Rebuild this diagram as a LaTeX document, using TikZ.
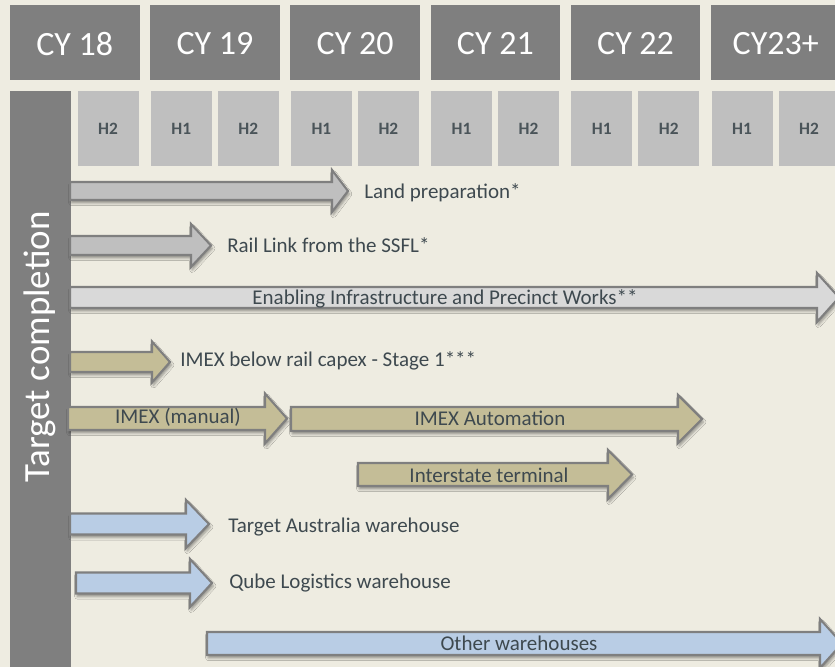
\documentclass[tikz,border=0pt]{standalone}
\usepackage{fontspec}
\setmainfont{Carlito}
\usetikzlibrary{shadows.blur}

\definecolor{slide}{RGB}{238,236,225}
\definecolor{yeargray}{RGB}{127,127,127}
\definecolor{halfgray}{RGB}{191,191,191}
\definecolor{taskgray}{RGB}{191,191,191}
\definecolor{taskpale}{RGB}{217,217,217}
\definecolor{tasktan}{RGB}{196,189,151}
\definecolor{taskblue}{RGB}{185,205,229}
\definecolor{labeltext}{RGB}{62,73,79}
\definecolor{halftext}{RGB}{74,84,89}

\tikzset{
  yearbox/.style={fill=yeargray},
  halfbox/.style={fill=halfgray},
  yearlabel/.style={text=white, inner sep=0pt, font=\fontsize{25.5}{30}\selectfont},
  halflabel/.style={text=halftext, inner sep=0pt, font=\fontsize{13}{15}\selectfont\bfseries},
  task/.style={draw=yeargray, line width=1.6pt, line join=miter,
    blur shadow={shadow xshift=1pt, shadow yshift=-2.2pt, shadow blur radius=2pt, shadow opacity=40}},
  tasklabel/.style={text=labeltext, inner sep=0pt, anchor=base west, font=\fontsize{15.75}{18}\selectfont},
}

% block arrow: style, left x, head base x, tip x, centre y, body half, head half
\newcommand{\blockarrow}[7]{%
  \draw[task,#1] (#2,#5-#6) -- (#3,#5-#6) -- (#3,#5-#7) -- (#4,#5)
    -- (#3,#5+#7) -- (#3,#5+#6) -- (#2,#5+#6) -- cycle;}

\begin{document}
\begin{tikzpicture}[x=0.75pt, y=-0.75pt]
  \useasboundingbox (0,0) rectangle (835,667);
  \clip (0,0) rectangle (835,667);
  \fill[slide] (0,0) rectangle (835,667);

  % calendar years
  \foreach \yr [count=\i from 0] in {CY 18, CY 19, CY 20, CY 21, CY 22, CY23+} {
    \pgfmathsetmacro{\xa}{10+140.2*\i}
    \fill[yearbox] (\xa,5) rectangle ++(129.5,75);
    \node[yearlabel] (cy\i) at (\xa+64.75,44) {\yr};
  }

  % half years
  \foreach \i in {0,...,5} {
    \pgfmathsetmacro{\xa}{10+140.2*\i}
    \fill[halfbox] (\xa+67.5,91) rectangle ++(61,75);
    \node[halflabel] (htwo\i) at (\xa+98,128.5) {H2};
  }
  \foreach \i in {1,...,5} {
    \pgfmathsetmacro{\xa}{10+140.2*\i}
    \fill[halfbox] (\xa+0.5,91) rectangle ++(61,75);
    \node[halflabel] (hone\i) at (\xa+31,128.5) {H1};
  }

  % side bar
  \fill[yeargray] (10,91) rectangle (71,667);
  \node[rotate=90, text=white, inner sep=0pt, font=\fontsize{27.7}{32}\selectfont] (side) at (40,347) {Target completion};

  % site works
  \blockarrow{fill=taskgray}{70}{332}{348}{191}{9}{21}
  \node[tasklabel] (land) at (364,198.5) {Land preparation*};
  \blockarrow{fill=taskgray}{70}{191}{211}{245.5}{9.5}{21.5}
  \node[tasklabel] (rail) at (227,252.5) {Rail Link from the SSFL*};
  \blockarrow{fill=taskpale}{70}{817}{839}{297.5}{10.5}{24.5}
  \node[tasklabel, anchor=base] (enabling) at (445,304.5) {Enabling Infrastructure and Precinct Works**};

  % IMEX
  \blockarrow{fill=tasktan}{70}{152}{170}{362}{10}{20.5}
  \node[tasklabel] (imexrail) at (180,366) {IMEX below rail capex - Stage 1***};
  \blockarrow{fill=tasktan}{68}{265}{287}{418.5}{11.5}{25}
  \node[tasklabel, anchor=base] (manual) at (178,423.5) {IMEX (manual)};
  \blockarrow{fill=tasktan}{291}{678}{702}{419}{12}{24}
  \node[tasklabel, anchor=base] (auto) at (490,425.5) {IMEX Automation};
  \blockarrow{fill=tasktan}{358}{608}{632}{474.5}{11.5}{24.5}
  \node[tasklabel, anchor=base] (interstate) at (489,482) {Interstate terminal};

  % warehouses
  \blockarrow{fill=taskblue}{70}{186}{209}{524}{10.5}{24}
  \node[tasklabel] (target) at (228,532) {Target Australia warehouse};
  \blockarrow{fill=taskblue}{76}{190}{212}{583}{10.5}{24}
  \node[tasklabel] (qube) at (229,588) {Qube Logistics warehouse};
  \blockarrow{fill=taskblue}{207}{820}{842}{643.5}{11.5}{24.5}
  \node[tasklabel, anchor=base] (other) at (519,650.5) {Other warehouses};
\end{tikzpicture}
\end{document}
